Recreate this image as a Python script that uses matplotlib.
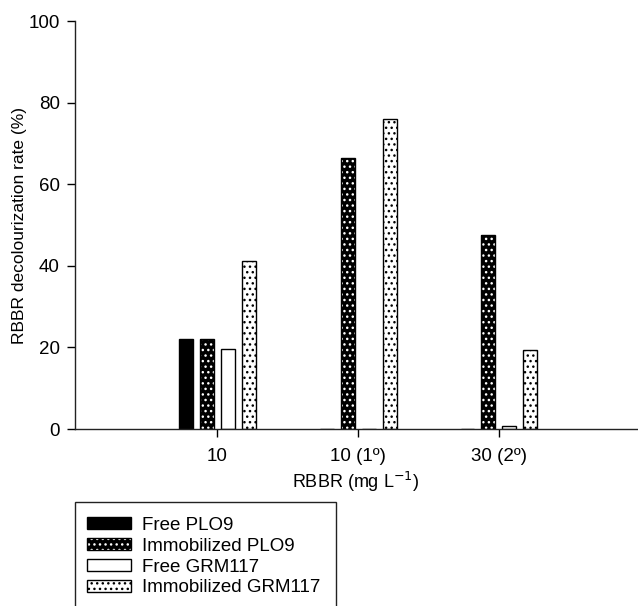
import matplotlib
matplotlib.use("Agg")
import matplotlib.pyplot as plt
from matplotlib.patches import Patch, Rectangle
from matplotlib.legend_handler import HandlerTuple
import numpy as np

plt.rcParams['font.family'] = ['Liberation Sans', 'DejaVu Sans']
plt.rcParams['font.size'] = 13
plt.rcParams['hatch.linewidth'] = 1.0

categories = ["10", "10 (1º)", "30 (2º)"]
free_plo9 = [22.0, 0.0, 0.0]
immob_plo9 = [22.0, 66.3, 47.6]
free_grm117 = [19.7, 0.0, 0.8]
immob_grm117 = [41.2, 75.9, 19.4]
series_names = ["Free PLO9", "Immobilized PLO9", "Free GRM117", "Immobilized GRM117"]

W, H = 638, 606
fig = plt.figure(figsize=(W / 100, H / 100), dpi=100)
ax = fig.add_axes([75 / W, 1 - 429 / H, (637 - 75) / W, (429 - 21) / H])

x = np.arange(len(categories))
step = 0.149
bw = 0.099
offs = [-1.5 * step, -0.5 * step, 0.5 * step, 1.5 * step]

# Free PLO9: solid black
ax.bar(x + offs[0], free_plo9, bw, color='black', edgecolor='black', linewidth=1)
# Immobilized PLO9: black with white dots
ax.bar(x + offs[1], immob_plo9, bw, color='black', edgecolor='white', hatch='...', linewidth=0)
ax.bar(x + offs[1], immob_plo9, bw, fill=False, edgecolor='black', linewidth=1)
# Free GRM117: white
ax.bar(x + offs[2], free_grm117, bw, color='white', edgecolor='black', linewidth=1)
# Immobilized GRM117: white with black dots
ax.bar(x + offs[3], immob_grm117, bw, color='white', edgecolor='black', hatch='...', linewidth=1)

ax.set_xlim(-1.01, 2.98)
ax.set_ylim(0, 100)
ax.set_xticks(x)
ax.set_xticklabels(categories)
ax.set_yticks([0, 20, 40, 60, 80, 100])
ax.tick_params(axis='both', direction='out', length=6, width=1, colors='black', labelsize=13.5)
ax.tick_params(axis='x', pad=8)
ax.tick_params(axis='y', pad=5)
for s in ['top', 'right']:
    ax.spines[s].set_visible(False)
for s in ['left', 'bottom']:
    ax.spines[s].set_linewidth(1)
    ax.spines[s].set_color('#222222')

ax.set_ylabel("RBBR decolourization rate (%)", fontsize=12.5, labelpad=1)
ax.set_xlabel("RBBR (mg L$^{-1}$)", fontsize=13, labelpad=3)

# Legend
h1 = Patch(facecolor='black', edgecolor='black', linewidth=1)
h2a = Patch(facecolor='black', edgecolor='white', hatch='...', linewidth=0)
h2b = Patch(fill=False, edgecolor='black', linewidth=1)
h3 = Patch(facecolor='white', edgecolor='black', linewidth=1)
h4 = Patch(facecolor='white', edgecolor='black', hatch='...', linewidth=1)
leg = fig.legend([h1, (h2a, h2b), h3, h4], series_names,
                 handler_map={tuple: HandlerTuple(ndivide=1, pad=0)},
                 loc='upper left', bbox_to_anchor=(87 / W, 1 - 517 / H),
                 frameon=False, borderpad=0, borderaxespad=0,
                 handlelength=2.35, handleheight=0.6, handletextpad=0.6,
                 labelspacing=0.2, fontsize=13.5)

fig.patches.append(Rectangle((75 / W, -0.05), (336 - 75) / W, (0.05 + 1 - 502 / H),
                             transform=fig.transFigure, fill=False,
                             edgecolor='#222222', linewidth=1))

fig.savefig("out.png", dpi=100)
